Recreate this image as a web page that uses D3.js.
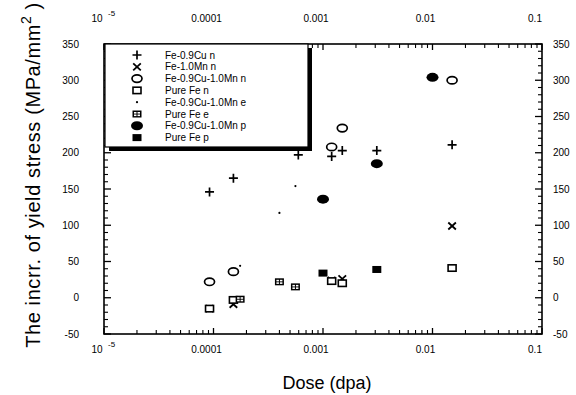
<!DOCTYPE html>
<html>
<head>
<meta charset="utf-8">
<script src="https://cdn.jsdelivr.net/npm/d3@7"></script>
<style>
  body { margin: 0; background: #fff; }
  svg { display: block; font-family: "Liberation Sans", Arial, sans-serif; }
  .tick-label { font-size: 10px; fill: #000; }
</style>
</head>
<body>
<div id="chart"></div>
<script>
// Data (dose in dpa, increase of yield stress in MPa)
const seriesNames = [
  'Fe-0.9Cu n', 'Fe-1.0Mn n', 'Fe-0.9Cu-1.0Mn n', 'Pure Fe n',
  'Fe-0.9Cu-1.0Mn e', 'Pure Fe e', 'Fe-0.9Cu-1.0Mn p', 'Pure Fe p'
];
const seriesSymbols = ['plus', 'cross', 'ring', 'square', 'dot', 'grid', 'disc', 'block'];

const cuN     = [[9.2e-5, 146], [1.52e-4, 165], [5.95e-4, 197], [1.2e-3, 195], [1.5e-3, 203], [3.1e-3, 203], [1.51e-2, 211]];
const mnN     = [[9.2e-5, -15], [1.52e-4, -9], [1.2e-3, 24], [1.5e-3, 26], [1.51e-2, 99]];
const cuMnN   = [[9.2e-5, 22], [1.52e-4, 36], [1.2e-3, 208], [1.5e-3, 234], [1.51e-2, 300]];
const pureN   = [[9.2e-5, -15], [1.52e-4, -3], [1.2e-3, 23], [1.5e-3, 20], [1.51e-2, 41]];
const cuMnE   = [[1.75e-4, 44], [4.0e-4, 117], [5.6e-4, 154]];
const pureE   = [[1.75e-4, -2], [4.0e-4, 22], [5.6e-4, 15]];
const cuMnP   = [[1.0e-3, 136], [3.1e-3, 185], [1.0e-2, 304]];
const pureP   = [[1.0e-3, 34], [3.1e-3, 39]];
const seriesData = [cuN, mnN, cuMnN, pureN, cuMnE, pureE, cuMnP, pureP];

const xTicks = [1e-5, 1e-4, 1e-3, 1e-2, 1e-1];
const xTickLabels = ['10', '0.0001', '0.001', '0.01', '0.1'];
const yTicks = [-50, 0, 50, 100, 150, 200, 250, 300, 350];

const width = 576;
const height = 395;
const margin = { top: 44, right: 34, bottom: 61, left: 104 };
const plot = {
  left: margin.left,
  right: width - margin.right,
  top: margin.top,
  bottom: height - margin.bottom
};

const x = d3.scaleLog().domain([1e-5, 1e-1]).range([plot.left, plot.right]);
const y = d3.scaleLinear().domain([-50, 350]).range([plot.bottom, plot.top]);

const svg = d3.select('#chart').append('svg')
  .attr('width', width)
  .attr('height', height);

// minor ticks
const xMinor = [];
for (let e = -5; e < -1; e++) {
  for (let m = 2; m <= 9; m++) xMinor.push(m * Math.pow(10, e));
}
const yMinor = d3.range(-50, 351, 10).filter(v => v % 50 !== 0);

const axisG = svg.append('g').attr('stroke', '#000');

// bottom / top axes, ticks pointing inside
[[plot.bottom, -1], [plot.top, 1]].forEach(([yy, dir]) => {
  axisG.selectAll(null).data(xTicks).join('line')
    .attr('x1', d => x(d)).attr('x2', d => x(d))
    .attr('y1', yy).attr('y2', yy + dir * 6)
    .attr('stroke-width', 1.3);
  axisG.selectAll(null).data(xMinor).join('line')
    .attr('x1', d => x(d)).attr('x2', d => x(d))
    .attr('y1', yy).attr('y2', yy + dir * 4)
    .attr('stroke-width', 1.1);
});

// left / right axes
[[plot.left, 1], [plot.right, -1]].forEach(([xx, dir]) => {
  axisG.selectAll(null).data(yTicks).join('line')
    .attr('x1', xx).attr('x2', xx + dir * 7)
    .attr('y1', d => y(d)).attr('y2', d => y(d))
    .attr('stroke-width', 1.3);
  axisG.selectAll(null).data(yMinor).join('line')
    .attr('x1', xx).attr('x2', xx + dir * 4)
    .attr('y1', d => y(d)).attr('y2', d => y(d))
    .attr('stroke-width', 1.1);
});

// frame
svg.append('rect')
  .attr('x', plot.left).attr('y', plot.top)
  .attr('width', plot.right - plot.left).attr('height', plot.bottom - plot.top)
  .attr('fill', 'none').attr('stroke', '#000').attr('stroke-width', 1.6);

// y tick labels (both sides)
svg.append('g').selectAll('text').data(yTicks).join('text')
  .attr('class', 'tick-label')
  .attr('x', plot.left - 25).attr('y', d => y(d)).attr('dy', '0.35em')
  .attr('text-anchor', 'end')
  .text(d => d);
svg.append('g').selectAll('text').data(yTicks).join('text')
  .attr('class', 'tick-label')
  .attr('x', plot.right + 11).attr('y', d => y(d)).attr('dy', '0.35em')
  .text(d => d);

// x tick labels (bottom and top)
[plot.bottom + 19, plot.top - 22].forEach(yy => {
  const g = svg.append('g');
  g.selectAll('text').data(xTicks).join('text')
    .attr('class', 'tick-label')
    .attr('x', d => x(d) - 7)
    .attr('y', yy)
    .attr('text-anchor', 'middle')
    .text((d, i) => xTickLabels[i]);
  g.append('text')
    .attr('class', 'tick-label')
    .attr('x', x(xTicks[0]) + 4).attr('y', yy - 6)
    .style('font-size', '8px')
    .text('-5');
});

// marker drawing
function drawSymbol(g, kind, cx, cy) {
  switch (kind) {
    case 'plus':
      g.append('path').attr('d', `M${cx - 4.5},${cy}H${cx + 4.5}M${cx},${cy - 4.5}V${cy + 4.5}`)
        .attr('stroke', '#000').attr('stroke-width', 1.7);
      break;
    case 'cross':
      g.append('path').attr('d', `M${cx - 3.8},${cy - 3.5}L${cx + 3.8},${cy + 3.5}M${cx - 3.8},${cy + 3.5}L${cx + 3.8},${cy - 3.5}`)
        .attr('stroke', '#000').attr('stroke-width', 1.8);
      break;
    case 'ring':
      g.append('ellipse').attr('cx', cx).attr('cy', cy).attr('rx', 5).attr('ry', 3.7)
        .attr('fill', '#fff').attr('stroke', '#000').attr('stroke-width', 1.7);
      break;
    case 'square':
      g.append('rect').attr('x', cx - 4).attr('y', cy - 3.2).attr('width', 8).attr('height', 6.4)
        .attr('fill', '#fff').attr('stroke', '#000').attr('stroke-width', 1.6);
      break;
    case 'dot':
      g.append('circle').attr('cx', cx).attr('cy', cy).attr('r', 1.1).attr('fill', '#000');
      break;
    case 'grid':
      g.append('rect').attr('x', cx - 4.5).attr('y', cy - 3.5).attr('width', 9).attr('height', 7)
        .attr('fill', '#000');
      [[-3, -2], [0.5, -2], [-3, 0.5], [0.5, 0.5]].forEach(([dx, dy]) => {
        g.append('rect').attr('x', cx + dx).attr('y', cy + dy).attr('width', 2.5).attr('height', 1.6)
          .attr('fill', '#fff');
      });
      break;
    case 'disc':
      g.append('ellipse').attr('cx', cx).attr('cy', cy).attr('rx', 6).attr('ry', 4.5).attr('fill', '#000');
      break;
    case 'block':
      g.append('rect').attr('x', cx - 4.5).attr('y', cy - 3.5).attr('width', 9).attr('height', 7)
        .attr('fill', '#000');
      break;
  }
}

// legend box with heavy shadow on right and bottom
const legend = { left: 105, top: 44, right: 308, bottom: 147 };
const legendG = svg.append('g');
legendG.append('rect')
  .attr('x', legend.left + 4).attr('y', legend.top + 4)
  .attr('width', legend.right - legend.left).attr('height', legend.bottom - legend.top)
  .attr('fill', '#000');
legendG.append('rect')
  .attr('x', legend.left).attr('y', legend.top)
  .attr('width', legend.right - legend.left).attr('height', legend.bottom - legend.top)
  .attr('fill', '#fff').attr('stroke', '#000').attr('stroke-width', 1.2);

seriesNames.forEach((name, i) => {
  const yy = 55 + i * 11.8;
  drawSymbol(legendG, seriesSymbols[i], 137, yy);
  legendG.append('text')
    .attr('x', 165).attr('y', yy).attr('dy', '0.35em')
    .style('font-size', '10px')
    .text(name);
});

// data points
const pts = svg.append('g');
seriesData.forEach((series, i) => {
  series.forEach(([dose, val]) => {
    drawSymbol(pts, seriesSymbols[i], x(dose), y(val));
  });
});

// axis titles
svg.append('text')
  .attr('x', 327).attr('y', 389)
  .attr('text-anchor', 'middle')
  .style('font-size', '18px')
  .text('Dose (dpa)');

const yTitle = svg.append('text')
  .attr('transform', 'translate(40,175) rotate(-90)')
  .attr('text-anchor', 'middle')
  .style('font-size', '20px')
  .style('letter-spacing', '0.6px');
yTitle.append('tspan').text('The incrr. of yield stress (MPa/mm');
yTitle.append('tspan').attr('dy', -9).style('font-size', '14px').text('2');
yTitle.append('tspan').attr('dy', 9).text('  )');
</script>
</body>
</html>
